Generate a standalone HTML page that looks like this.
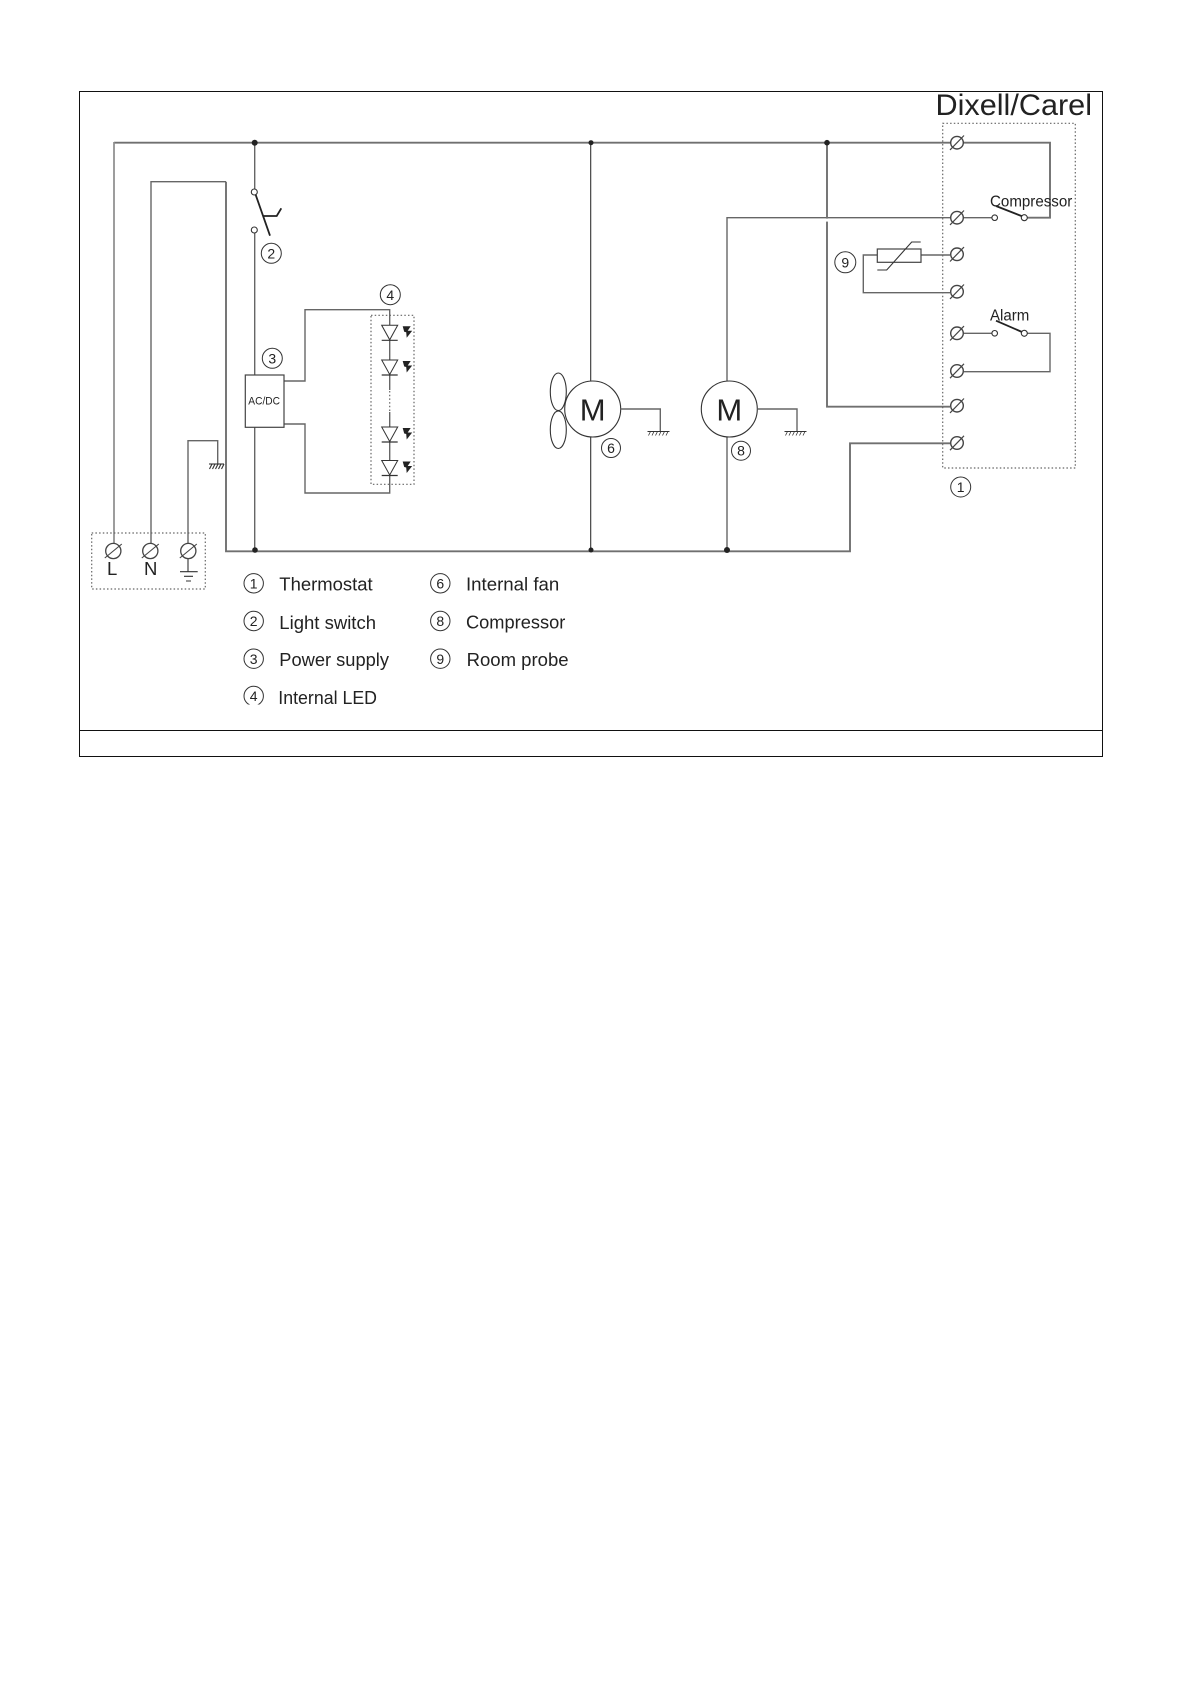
<!DOCTYPE html>
<html><head><meta charset="utf-8"><style>
html,body{margin:0;padding:0;background:#fff}
svg{display:block}
text{font-family:"Liberation Sans",sans-serif;fill:#222}
.w{fill:none;stroke:#666;stroke-width:1.4}
.r{fill:none;stroke:#707070;stroke-width:1.9}
.s{fill:none;stroke:#333;stroke-width:1.1}
.b{fill:none;stroke:#222;stroke-width:1.8}
.d{fill:none;stroke:#666;stroke-width:1.2;stroke-dasharray:1.5 2.2}
.n{fill:none;stroke:#333;stroke-width:1}
.o{fill:#fff;stroke:#333;stroke-width:1.1}
.k{fill:#222}
.c{font-size:14px;text-anchor:middle}
</style></head><body>
<svg width="1191" height="1684" viewBox="0 0 1191 1684" xmlns="http://www.w3.org/2000/svg">
<rect width="1191" height="1684" fill="#fff"/>
<defs>
<g id="t"><circle r="6.3" fill="#fff" stroke="#444" stroke-width="1.4"/><path d="M-7-7.2 7 7.2" transform="scale(-1,1)" fill="none" stroke="#444" stroke-width="1.2"/></g>
<g id="T"><circle r="7.6" fill="#fff" stroke="#444" stroke-width="1.3"/><path d="M-8.5 7 8.5-7" fill="none" stroke="#444" stroke-width="1.1"/></g>
<g id="led"><path d="M-8 0H8L0 14.5Z" fill="#fff" stroke="#333" stroke-width="1"/><path d="M-8 15H8" stroke="#333" stroke-width="1.2"/>
<path d="M13 1H21L18 5.500H22.500L17 12.500 16.500 7 14.500 6.500Z" fill="#222"/></g>
<g id="gnd"><path d="M-12 0H10" stroke="#333" stroke-width="1"/><path d="M-11 4-9 0M-7.500 4-5.500 0M-4 4-2 0M-.5 4 1.500 0M3 4 5 0M6.500 4 8.500 0" stroke="#333" stroke-width=".8"/></g>
</defs>

<!-- frame -->
<rect x="79.500" y="91.500" width="1023" height="665" fill="none" stroke="#111" stroke-width="1"/>
<path d="M79.500 730.500H1102.500" stroke="#111" stroke-width="1"/>

<!-- rails and wires -->
<path class="r" d="M114 142.700H1050V217.700H1027"/>
<path d="M114 142V551" fill="none" stroke="#8c8c8c" stroke-width="1.700"/>
<path class="r" d="M226 181.700V551.300H850V443.300H950"/>
<path class="w" d="M151 551V181.700H226"/>
<path class="w" d="M188 551V440.700H217.700V464"/>
<path class="w" d="M254.700 142.700V189M254.700 233V375M254.700 427V551"/>
<path class="w" d="M284 381H305V309.700H389.700V390M389.700 412V493H305V424H284"/>
<path class="d" d="M389.700 391V412"/>
<path class="s" d="M590.700 142.700V381M590.700 437V550"/>
<path class="w" d="M727 437V550M727 381V217.700H950"/>
<path class="r" d="M827 142.700V406.700H950"/>
<path fill="#fff" d="M825 218.600H829V221.600H825Z"/>
<path class="w" d="M964 217.700H991.700M964 333.300H991.700M1027 333.300H1050V371.700H964"/>
<path class="w" d="M921 255H950M877 255H863.300V292.700H950"/>

<!-- junctions -->
<circle class="k" cx="254.700" cy="142.700" r="3"/>
<circle class="k" cx="591" cy="142.700" r="2.500"/>
<circle class="k" cx="827" cy="142.700" r="2.800"/>
<circle class="k" cx="255" cy="550" r="2.800"/>
<circle class="k" cx="591" cy="550" r="2.500"/>
<circle class="k" cx="727" cy="550" r="3"/>

<!-- light switch -->
<path class="b" d="M254.700 192 270 235.700M263.300 216H276.700L281.300 208.300"/>
<circle class="o" cx="254.300" cy="192" r="3"/>
<circle class="o" cx="254.300" cy="230" r="3"/>

<!-- AC/DC -->
<rect x="245.300" y="375" width="38.700" height="52.300" fill="#fff" stroke="#444" stroke-width="1.200"/>
<text x="248.300" y="404.700" font-size="11" textLength="31.700" lengthAdjust="spacingAndGlyphs">AC/DC</text>

<!-- LEDs -->
<rect class="d" x="371" y="315.300" width="43" height="169"/>
<use href="#led" x="389.700" y="325.300"/>
<use href="#led" x="389.700" y="360"/>
<use href="#led" x="389.700" y="427"/>
<use href="#led" x="389.700" y="460.500"/>

<!-- earth at left -->
<path class="s" d="M209 464H224"/>
<path class="s" d="M209.500 469 212 464M212.500 469 215 464M215.500 469 218 464M218.500 469 221 464M221.500 469 224 464"/>
<path class="s" d="M188 558V571.700M180 571.700H197.700M184 576.300H193M186 581H191"/>

<!-- terminal block -->
<rect class="d" x="91.700" y="533" width="113.600" height="56"/>
<use href="#T" x="113.300" y="551"/>
<use href="#T" x="150.300" y="551"/>
<use href="#T" x="188.300" y="551"/>
<text x="107" y="575" font-size="18.500">L</text>
<text x="144" y="575" font-size="18.500">N</text>

<!-- motors -->
<ellipse class="s" cx="558.300" cy="391.800" rx="8" ry="18.800"/>
<ellipse class="s" cx="558.300" cy="429.700" rx="8" ry="18.800"/>
<circle cx="592.700" cy="409" r="28" fill="#fff" stroke="#333" stroke-width="1.100"/>
<circle cx="729.300" cy="409" r="28" fill="#fff" stroke="#333" stroke-width="1.100"/>
<text x="592.700" y="420.500" font-size="31" text-anchor="middle">M</text>
<text x="729.300" y="420.500" font-size="31" text-anchor="middle">M</text>
<path class="w" d="M620.700 409H660.300V431.300M757.300 409H797V431.300"/>
<use href="#gnd" x="659.500" y="431.500"/>
<use href="#gnd" x="796.500" y="431.500"/>

<!-- controller -->
<rect class="d" x="942.700" y="123.300" width="132.600" height="344.700"/>
<use href="#t" x="957" y="142.700"/>
<use href="#t" x="957" y="217.700"/>
<use href="#t" x="957" y="254.300"/>
<use href="#t" x="957" y="291.700"/>
<use href="#t" x="957" y="333.300"/>
<use href="#t" x="957" y="371"/>
<use href="#t" x="957" y="405.700"/>
<use href="#t" x="957" y="443"/>

<path class="b" d="M996 206 1024 217M996 320.700 1022 332"/>
<circle class="o" cx="994.700" cy="217.700" r="2.800"/>
<circle class="o" cx="1024.300" cy="217.700" r="3"/>
<circle class="o" cx="994.700" cy="333.300" r="2.800"/>
<circle class="o" cx="1024.300" cy="333.300" r="3"/>
<text x="990" y="206.700" font-size="15.500" textLength="82.300" lengthAdjust="spacingAndGlyphs">Compressor</text>
<text x="990" y="320.700" font-size="15.500" textLength="39.300" lengthAdjust="spacingAndGlyphs">Alarm</text>

<!-- room probe -->
<rect x="877.300" y="249" width="43.700" height="13.300" fill="#fff" stroke="#444" stroke-width="1.200"/>
<path class="s" d="M877.300 270H886.700L911.700 242H920.700"/>

<!-- title -->
<text x="935.500" y="115" font-size="30" textLength="156.500" lengthAdjust="spacingAndGlyphs">Dixell/Carel</text>

<!-- callout numbers -->
<circle class="n" cx="271.300" cy="253.300" r="10"/><text class="c" x="271.300" y="258.500">2</text>
<circle class="n" cx="390.300" cy="294.700" r="10"/><text class="c" x="390.300" y="300">4</text>
<circle class="n" cx="272.300" cy="358.300" r="10"/><text class="c" x="272.300" y="363.500">3</text>
<circle class="n" cx="611" cy="448" r="9.500"/><text class="c" x="611" y="453">6</text>
<circle class="n" cx="741" cy="450.700" r="9.500"/><text class="c" x="741" y="455.700">8</text>
<circle class="n" cx="845.300" cy="262.300" r="10.500"/><text class="c" x="845.300" y="267.500">9</text>
<circle class="n" cx="960.700" cy="487" r="10"/><text class="c" x="960.700" y="492">1</text>

<!-- legend -->
<circle class="n" cx="253.700" cy="583.300" r="9.700"/><text class="c" x="253.700" y="588.500">1</text>
<circle class="n" cx="253.700" cy="621" r="9.700"/><text class="c" x="253.700" y="626.200">2</text>
<circle class="n" cx="253.700" cy="658.700" r="9.700"/><text class="c" x="253.700" y="663.900">3</text>
<circle class="n" cx="253.700" cy="696" r="9.700"/><text class="c" x="253.700" y="701.200">4</text>
<rect x="240" y="704.500" width="28" height="4" fill="#fff"/>
<circle class="n" cx="440.300" cy="583.300" r="9.700"/><text class="c" x="440.300" y="588.500">6</text>
<circle class="n" cx="440.300" cy="621" r="9.700"/><text class="c" x="440.300" y="626.200">8</text>
<circle class="n" cx="440.300" cy="658.700" r="9.700"/><text class="c" x="440.300" y="663.900">9</text>

<g font-size="18.500">
<text x="279.300" y="590.700" textLength="93.400" lengthAdjust="spacingAndGlyphs">Thermostat</text>
<text x="279.300" y="629" textLength="96.700" lengthAdjust="spacingAndGlyphs">Light switch</text>
<text x="279.300" y="666" textLength="109.700" lengthAdjust="spacingAndGlyphs">Power supply</text>
<text x="278.300" y="704" textLength="98.700" lengthAdjust="spacingAndGlyphs">Internal LED</text>
<text x="466" y="590.700" textLength="93.300" lengthAdjust="spacingAndGlyphs">Internal fan</text>
<text x="466" y="628.300" textLength="99.300" lengthAdjust="spacingAndGlyphs">Compressor</text>
<text x="466.600" y="666" textLength="102" lengthAdjust="spacingAndGlyphs">Room probe</text>
</g>
</svg>
</body></html>
